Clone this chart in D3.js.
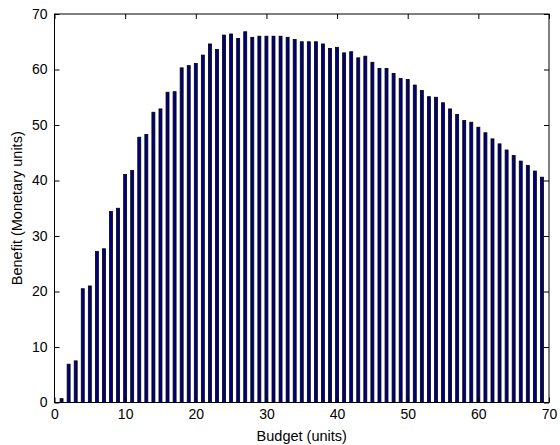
<!DOCTYPE html>
<html>
<head>
<meta charset="utf-8">
<script src="https://cdn.jsdelivr.net/npm/d3@7"></script>
<style>
  body { margin: 0; background: #fff; }
  text { font-family: "Liberation Sans", Arial, sans-serif; }
</style>
</head>
<body>
<script>
// budget steps and the benefit
var budget = d3.range(1, 70);
var benefit = [
  0.7, 6.9, 7.5, 20.5, 21.0, 27.2, 27.7, 34.4, 35.0, 41.1,
  41.8, 47.8, 48.3, 52.3, 52.9, 55.9, 56.0, 60.3, 60.7, 61.1,
  62.6, 64.6, 63.6, 66.2, 66.4, 65.6, 66.8, 65.8, 66.0, 66.0,
  66.0, 66.0, 65.8, 65.4, 65.0, 65.0, 65.0, 64.6, 63.8, 64.0,
  63.0, 63.2, 62.1, 62.4, 61.3, 60.2, 60.2, 59.3, 58.4, 58.2,
  57.2, 56.2, 55.1, 55.0, 54.0, 52.9, 51.9, 50.8, 50.5, 49.6,
  48.6, 47.5, 46.6, 45.5, 44.5, 43.5, 42.7, 41.7, 40.6
];
var xTicks = [0, 10, 20, 30, 40, 50, 60, 70];
var yTicks = [0, 10, 20, 30, 40, 50, 60, 70];

var width = 560,
    height = 445;
// plot frame
var frameL = 54.5, frameR = 549, frameT = 14, frameB = 402.5;

var svg = d3.select("body")
    .append("svg")
    .attr("width", width)
    .attr("height", height);

var x = d3.scaleLinear().domain([0, 70]).range([frameL, frameR]);
var y = d3.scaleLinear().domain([0, 70]).range([frameB, frameT]);

// bars
svg.selectAll(".bar")
    .data(budget)
    .enter()
    .append("rect")
    .attr("class", "bar")
    .attr("x", function(d){ return x(d - 0.21); })
    .attr("width", function(d){ return x(d + 0.21) - x(d - 0.21); })
    .attr("y", function(d, i){ return y(benefit[i]); })
    .attr("height", function(d, i){ return y(0) - y(benefit[i]); })
    .attr("fill", "#000080")
    .attr("stroke", "#000")
    .attr("stroke-width", 0.8);

// box axes, ticks pointing in
var tickLen = 5;
svg.append("g")
    .attr("transform", "translate(0," + frameB + ")")
    .call(d3.axisBottom(x).tickValues(xTicks).tickSize(-tickLen).tickPadding(7))
    .call(function(g){ g.select(".domain").remove(); })
    .selectAll("text").attr("font-size", 14).attr("fill", "#000");
svg.append("g")
    .attr("transform", "translate(0," + frameT + ")")
    .call(d3.axisTop(x).tickValues(xTicks).tickSize(-tickLen).tickFormat(""))
    .call(function(g){ g.select(".domain").remove(); });
svg.append("g")
    .attr("transform", "translate(" + frameL + ",0)")
    .call(d3.axisLeft(y).tickValues(yTicks).tickSize(-tickLen).tickPadding(7))
    .call(function(g){ g.select(".domain").remove(); })
    .selectAll("text").attr("font-size", 14).attr("fill", "#000");
svg.append("g")
    .attr("transform", "translate(" + frameR + ",0)")
    .call(d3.axisRight(y).tickValues(yTicks).tickSize(-tickLen).tickFormat(""))
    .call(function(g){ g.select(".domain").remove(); });

svg.selectAll(".tick line").attr("stroke", "#000");

svg.append("rect")
    .attr("x", frameL)
    .attr("y", frameT)
    .attr("width", frameR - frameL)
    .attr("height", frameB - frameT)
    .attr("fill", "none")
    .attr("stroke", "#000")
    .attr("stroke-width", 1);

// axis labels
svg.append("text")
    .attr("x", (frameL + frameR) / 2)
    .attr("y", 441)
    .attr("text-anchor", "middle")
    .attr("font-size", 14.5)
    .text("Budget (units)");

svg.append("text")
    .attr("transform", "translate(22," + (frameT + frameB) / 2 + ") rotate(-90)")
    .attr("text-anchor", "middle")
    .attr("font-size", 14.5)
    .text("Benefit (Monetary units)");
</script>
</body>
</html>
